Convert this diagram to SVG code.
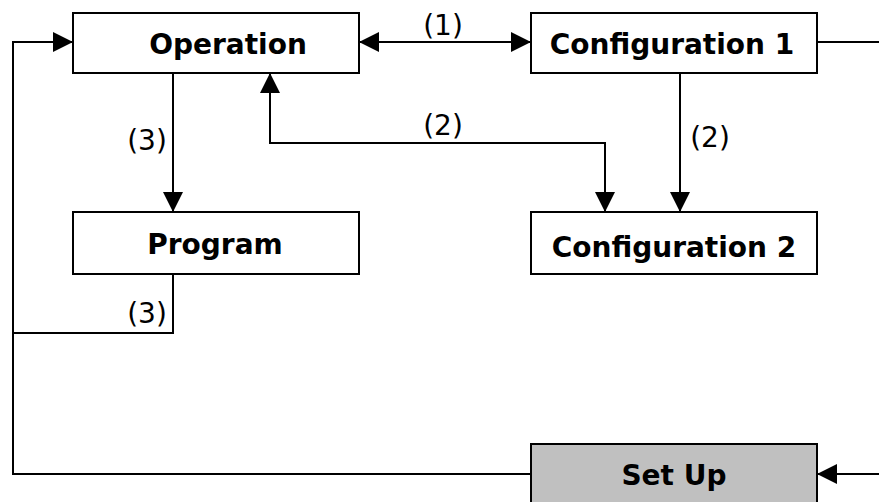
<svg xmlns="http://www.w3.org/2000/svg" width="879" height="502" viewBox="0 0 879 502">
<style>
.box{fill:#fff;stroke:#000;stroke-width:2}
.grey{fill:#c0c0c0}
.t{font-family:"DejaVu Sans",Verdana,sans-serif;font-weight:bold;font-size:28px;text-anchor:middle;fill:#000}
.lbl{font-family:"DejaVu Sans",Verdana,sans-serif;font-size:28px;text-anchor:middle;fill:#000}
.c{fill:none;stroke:#000;stroke-width:2}
</style>
<defs>
<marker id="ah" markerUnits="userSpaceOnUse" markerWidth="20" markerHeight="20" refX="20" refY="10" orient="auto-start-reverse">
<path d="M0,0 L20,10 L0,20 z" fill="#000"/>
</marker>
</defs>
<rect width="879" height="502" fill="#fff"/>
<g id="connectors">
<path class="c" d="M531,474 H13 V42 H73" marker-end="url(#ah)"/>
<path class="c" d="M173,274 V333 H13"/>
<path class="c" d="M173,73 V212" marker-end="url(#ah)"/>
<path class="c" d="M359,42 H531" marker-start="url(#ah)" marker-end="url(#ah)"/>
<path class="c" d="M817,42 H879"/>
<path class="c" d="M879,474 H817" marker-end="url(#ah)"/>
<path class="c" d="M605,212 V143 H270 V73" marker-start="url(#ah)" marker-end="url(#ah)"/>
<path class="c" d="M680,73 V212" marker-end="url(#ah)"/>
<text class="lbl" x="443" y="35">(1)</text>
<text class="lbl" x="443" y="135">(2)</text>
<text class="lbl" x="710" y="147">(2)</text>
<text class="lbl" x="147" y="150">(3)</text>
<text class="lbl" x="147" y="323">(3)</text>
</g>
<g id="operation">
<rect class="box" x="73" y="13" width="286" height="60"/>
<text class="t" x="228" y="54">Operation</text>
</g>
<g id="configuration1">
<rect class="box" x="531" y="13" width="286" height="60"/>
<text class="t" x="672" y="54">Configuration 1</text>
</g>
<g id="program">
<rect class="box" x="73" y="212" width="286" height="62"/>
<text class="t" x="215" y="254">Program</text>
</g>
<g id="configuration2">
<rect class="box" x="531" y="212" width="286" height="62"/>
<text class="t" x="674" y="257">Configuration 2</text>
</g>
<g id="setup">
<rect class="box grey" x="531" y="444" width="286" height="62"/>
<text class="t" x="674" y="485">Set Up</text>
</g>
</svg>
